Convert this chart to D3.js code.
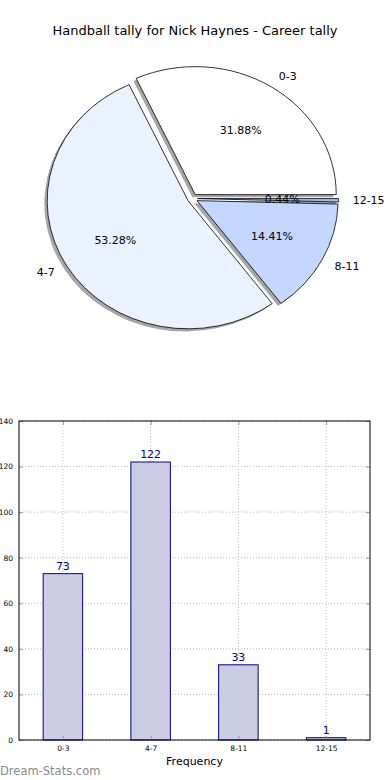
<!DOCTYPE html>
<html>
<head>
<meta charset="utf-8">
<script src="https://cdn.jsdelivr.net/npm/d3@7"></script>
<style>
  body { margin: 0; background: #fff; }
  svg { font-family: "DejaVu Sans", sans-serif; }
</style>
</head>
<body>
<div class="chart"></div>
<script>
// data
var categories = ["0-3", "4-7", "8-11", "12-15"];
var counts = [73, 122, 33, 1];
var pieColors = ["#ffffff", "#eaf1ff", "#c4d8ff", "#9fbdf5"];
var yTicks = [0, 20, 40, 60, 80, 100, 120, 140];

var W = 390, H = 780;
var svg = d3.select(".chart").append("svg")
    .attr("width", W)
    .attr("height", H);

// title
svg.append("text")
    .attr("x", 195)
    .attr("y", 35)
    .attr("text-anchor", "middle")
    .attr("font-size", 13)
    .text("Handball tally for Nick Haynes - Career tally");

// ---- pie (matplotlib style: ccw from east, exploded, shadow, elliptical) ----
var cx = 192.5, cy = 198.5, rx = 141, ry = 128, explode = 0.036;
var total = d3.sum(counts);

var pie = d3.pie().sort(null)
    .startAngle(Math.PI / 2)
    .endAngle(Math.PI / 2 - 2 * Math.PI);
var arcs = pie(counts);
var arc = d3.arc().innerRadius(0).outerRadius(1);

// math angle of mid slice (ccw from east)
function midMath(d) { return Math.PI / 2 - (d.startAngle + d.endAngle) / 2; }
function centerOf(d) {
  var t = midMath(d);
  return [cx + explode * rx * Math.cos(t), cy - explode * ry * Math.sin(t)];
}

var pieG = svg.append("g");

// shadows
pieG.selectAll(".shadow")
    .data(arcs)
  .enter().append("path")
    .attr("class", "shadow")
    .attr("transform", function(d) {
      var c = centerOf(d);
      return "translate(" + (c[0] - 0.02 * rx) + "," + (c[1] + 0.02 * ry) + ") scale(" + rx + "," + ry + ")";
    })
    .attr("d", arc)
    .style("fill", "#4d4d4d")
    .style("opacity", 0.5)
    .style("stroke", "none");

// slices
pieG.selectAll(".slice")
    .data(arcs)
  .enter().append("path")
    .attr("class", "slice")
    .attr("transform", function(d) {
      var c = centerOf(d);
      return "translate(" + c[0] + "," + c[1] + ") scale(" + rx + "," + ry + ")";
    })
    .attr("d", arc)
    .style("fill", function(d, i) { return pieColors[i]; })
    .style("stroke", "#000")
    .style("stroke-width", 0.8)
    .attr("vector-effect", "non-scaling-stroke");

// category labels
pieG.selectAll(".plabel")
    .data(arcs)
  .enter().append("text")
    .attr("class", "plabel")
    .attr("font-size", 11)
    .attr("dy", "0.35em")
    .attr("x", function(d) { var c = centerOf(d); return c[0] + 1.1 * rx * Math.cos(midMath(d)); })
    .attr("y", function(d) { var c = centerOf(d); return c[1] - 1.1 * ry * Math.sin(midMath(d)); })
    .attr("text-anchor", function(d) { return Math.cos(midMath(d)) >= 0 ? "start" : "end"; })
    .text(function(d, i) { return categories[i]; });

// percentage labels
pieG.selectAll(".pct")
    .data(arcs)
  .enter().append("text")
    .attr("class", "pct")
    .attr("font-size", 11)
    .attr("dy", "0.35em")
    .attr("text-anchor", "middle")
    .attr("x", function(d) { var c = centerOf(d); return c[0] + 0.6 * rx * Math.cos(midMath(d)); })
    .attr("y", function(d) { var c = centerOf(d); return c[1] - 0.6 * ry * Math.sin(midMath(d)); })
    .text(function(d) { return (100 * d.value / total).toFixed(2) + "%"; });

// ---- bar chart ----
var m = {left: 19, right: 20, top: 421, bottom: 40};
var bw = W - m.left - m.right, bh = H - m.top - m.bottom;
var g = svg.append("g").attr("transform", "translate(" + m.left + "," + m.top + ")");

var x = d3.scaleLinear().domain([-0.5, 3.5]).range([0, bw]);
var y = d3.scaleLinear().domain([0, 140]).range([bh, 0]);

// grid
g.selectAll(".hgrid")
    .data(yTicks)
  .enter().append("line")
    .attr("x1", 0).attr("x2", bw)
    .attr("y1", function(d) { return y(d); })
    .attr("y2", function(d) { return y(d); })
    .style("stroke", "#bbb")
    .style("stroke-dasharray", "1,2");
g.selectAll(".vgrid")
    .data(categories)
  .enter().append("line")
    .attr("x1", function(d, i) { return x(i); })
    .attr("x2", function(d, i) { return x(i); })
    .attr("y1", 0).attr("y2", bh)
    .style("stroke", "#bbb")
    .style("stroke-dasharray", "1,2");

// bars
g.selectAll(".bar")
    .data(counts)
  .enter().append("rect")
    .attr("class", "bar")
    .attr("x", function(d, i) { return x(i - 0.225); })
    .attr("width", x(0.45) - x(0))
    .attr("y", function(d) { return y(d); })
    .attr("height", function(d) { return bh - y(d); })
    .style("fill", "#ccccE4")
    .style("stroke", "#00008b")
    .style("stroke-width", 1);

// bar value labels
g.selectAll(".blabel")
    .data(counts)
  .enter().append("text")
    .attr("x", function(d, i) { return x(i); })
    .attr("y", function(d) { return y(d) - 4; })
    .attr("text-anchor", "middle")
    .attr("font-size", 11)
    .style("fill", "#00008b")
    .text(function(d) { return d; });

// axes (ticks inside like matplotlib)
var yAxis = d3.axisLeft(y).tickValues(yTicks).tickSize(-4).tickPadding(6);
var yAxisR = d3.axisRight(y).tickValues(yTicks).tickSize(-4).tickFormat("");
var xAxis = d3.axisBottom(x).tickValues([0, 1, 2, 3]).tickSize(-4).tickPadding(6)
    .tickFormat(function(d) { return categories[d]; });
var xAxisT = d3.axisTop(x).tickValues([0, 1, 2, 3]).tickSize(-4).tickFormat("");

function styleAxis(sel) {
  sel.select(".domain").remove();
  sel.selectAll(".tick line").style("stroke", "#999");
  sel.selectAll("text").attr("font-size", 7.5).style("font-family", "DejaVu Sans, sans-serif");
}
g.append("g").call(yAxis).call(styleAxis);
g.append("g").attr("transform", "translate(" + bw + ",0)").call(yAxisR).call(styleAxis);
g.append("g").attr("transform", "translate(0," + bh + ")").call(xAxis).call(styleAxis);
g.append("g").call(xAxisT).call(styleAxis);

// frame
g.append("rect")
    .attr("width", bw).attr("height", bh)
    .style("fill", "none")
    .style("stroke", "#000")
    .style("stroke-width", 1);

// x label
g.append("text")
    .attr("x", bw / 2)
    .attr("y", bh + 25)
    .attr("text-anchor", "middle")
    .attr("font-size", 11)
    .text("Frequency");

// watermark
svg.append("text")
    .attr("x", 0)
    .attr("y", 775)
    .attr("font-size", 11.5)
    .style("fill", "#8a8a8a")
    .text("Dream-Stats.com");
</script>
</body>
</html>
